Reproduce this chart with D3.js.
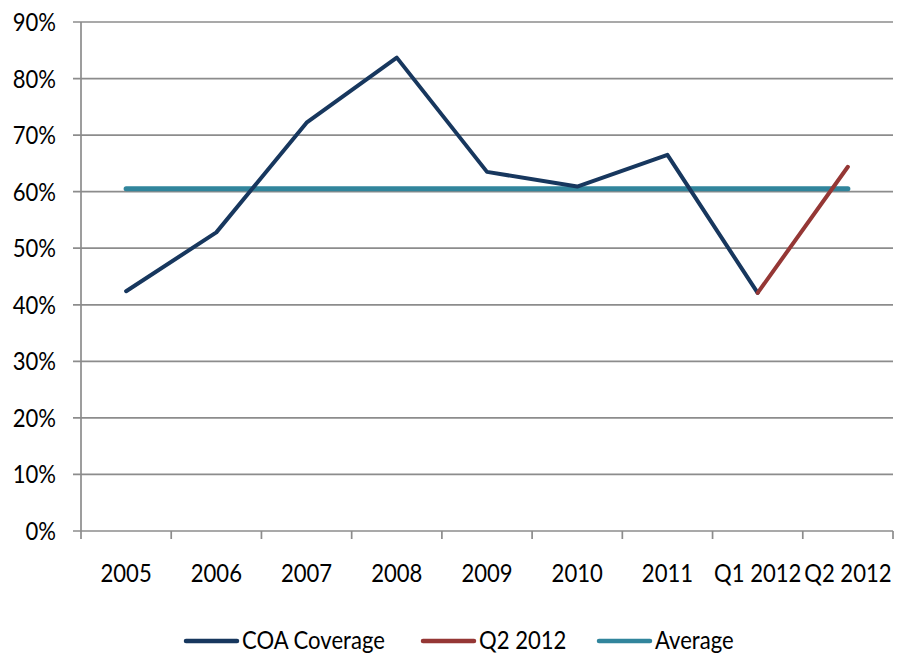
<!DOCTYPE html>
<html>
<head>
<meta charset="utf-8">
<script src="https://cdn.jsdelivr.net/npm/d3@7"></script>
<style>
  html, body { margin: 0; padding: 0; background: #fff; }
  svg text { font-family: Lato, "Open Sans", sans-serif; fill: #000; font-size: 26px; }
</style>
</head>
<body>
<svg id="chart" width="903" height="657"></svg>
<script>
// Category labels along the x axis
const categories = ["2005", "2006", "2007", "2008", "2009", "2010", "2011", "Q1 2012", "Q2 2012"];
// COA coverage by year through Q1 2012 (share, 0-1)
const coaCoverage = [0.424, 0.528, 0.722, 0.837, 0.635, 0.609, 0.665, 0.421, null];
// Latest quarter segment: Q1 2012 -> Q2 2012
const q2Segment = [null, null, null, null, null, null, null, 0.421, 0.644];
// Average coverage across the period
const averageValue = 0.605;
const yTicks = [0, 0.1, 0.2, 0.3, 0.4, 0.5, 0.6, 0.7, 0.8, 0.9];

const svg = d3.select("#chart");
const plot = { left: 81, right: 893, top: 22, bottom: 531 };
const squeeze = 0.85; // horizontal condensing of label glyphs
const place = (px, py) => `translate(${px},${py}) scale(${squeeze},1)`;

const x = d3.scaleBand().domain(categories).range([plot.left, plot.right]).padding(0);
const y = d3.scaleLinear().domain([0, 0.9]).range([plot.bottom, plot.top]);
const cx = d => x(d) + x.bandwidth() / 2;

// Horizontal gridlines with short stubs left of the axis
svg.append("g")
  .selectAll("line")
  .data(yTicks)
  .join("line")
  .attr("x1", plot.left - 8).attr("x2", plot.right)
  .attr("y1", d => y(d)).attr("y2", d => y(d))
  .attr("stroke", "#8c8c8c").attr("stroke-width", 1.7);

// Y-axis line
svg.append("line")
  .attr("x1", plot.left).attr("x2", plot.left)
  .attr("y1", plot.top).attr("y2", plot.bottom + 8)
  .attr("stroke", "#8c8c8c").attr("stroke-width", 1.7);

// X tick marks at band boundaries
const boundaries = categories.map(c => x(c)).concat([plot.right]);
svg.append("g")
  .selectAll("line")
  .data(boundaries.slice(1))
  .join("line")
  .attr("x1", d => d).attr("x2", d => d)
  .attr("y1", plot.bottom).attr("y2", plot.bottom + 8)
  .attr("stroke", "#8c8c8c").attr("stroke-width", 1.7);

// Y tick labels
svg.append("g")
  .selectAll("text")
  .data(yTicks)
  .join("text")
  .attr("transform", d => place(56, y(d) + 9))
  .attr("text-anchor", "end")
  .text(d3.format(".0%"));

// X tick labels
svg.append("g")
  .selectAll("text")
  .data(categories)
  .join("text")
  .attr("transform", d => place(cx(d), 582))
  .attr("text-anchor", "middle")
  .text(d => d);

const line = d3.line()
  .defined(d => d.v !== null)
  .x(d => cx(d.c))
  .y(d => y(d.v));

// Average line
svg.append("path")
  .datum(categories.map(c => ({ c, v: averageValue })))
  .attr("d", line)
  .attr("fill", "none")
  .attr("stroke", "#31859c")
  .attr("stroke-width", 5)
  .attr("stroke-linecap", "round");

// COA coverage line
svg.append("path")
  .datum(categories.map((c, i) => ({ c, v: coaCoverage[i] })))
  .attr("d", line)
  .attr("fill", "none")
  .attr("stroke", "#17375e")
  .attr("stroke-width", 4)
  .attr("stroke-linejoin", "round")
  .attr("stroke-linecap", "round");

// Q2 2012 segment
svg.append("path")
  .datum(categories.map((c, i) => ({ c, v: q2Segment[i] })))
  .attr("d", line)
  .attr("fill", "none")
  .attr("stroke", "#953735")
  .attr("stroke-width", 4)
  .attr("stroke-linejoin", "round")
  .attr("stroke-linecap", "round");

// Legend
const legendItems = [
  { label: "COA Coverage", color: "#17375e", x: 186 },
  { label: "Q2 2012", color: "#953735", x: 423 },
  { label: "Average", color: "#31859c", x: 599 }
];
const lg = svg.append("g")
  .selectAll("g")
  .data(legendItems)
  .join("g")
  .attr("transform", d => `translate(${d.x},641)`);
lg.append("line")
  .attr("x1", 0).attr("x2", 51)
  .attr("stroke", d => d.color)
  .attr("stroke-width", 4.5)
  .attr("stroke-linecap", "round");
lg.append("text")
  .attr("transform", place(56, 8))
  .text(d => d.label);
</script>
</body>
</html>
